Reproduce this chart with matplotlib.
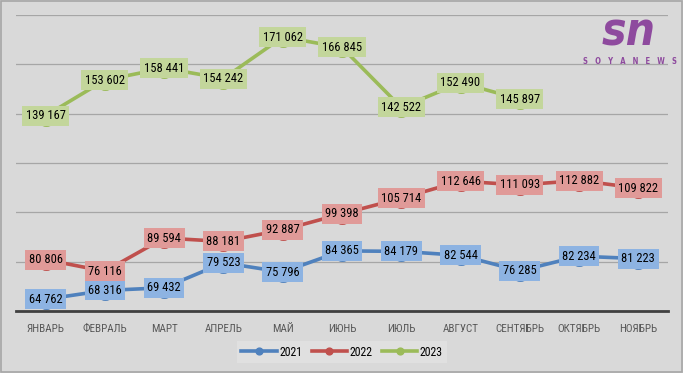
import matplotlib
matplotlib.use("Agg")
import matplotlib.pyplot as plt
from matplotlib import font_manager
from matplotlib.patches import Rectangle

months = ["ЯНВАРЬ", "ФЕВРАЛЬ", "МАРТ", "АПРЕЛЬ", "МАЙ", "ИЮНЬ", "ИЮЛЬ",
          "АВГУСТ", "СЕНТЯБРЬ", "ОКТЯБРЬ", "НОЯБРЬ"]
v2021 = [64762, 68316, 69432, 79523, 75796, 84365, 84179, 82544, 76285, 82234, 81223]
v2022 = [80806, 76116, 89594, 88181, 92887, 99398, 105714, 112646, 111093, 112882, 109822]
v2023 = [139167, 153602, 158441, 154242, 171062, 166845, 142522, 152490, 145897]
series_names = ["2021", "2022", "2023"]

names = {f.name for f in font_manager.fontManager.ttflist}
narrow = None
for cand in ["Liberation Sans Narrow", "Roboto Condensed", "Open Sans Condensed",
             "Noto Sans Condensed", "DejaVu Sans Condensed"]:
    if cand in names:
        narrow = cand
        break
if narrow is None:
    narrow = "DejaVu Sans"
plt.rcParams['font.family'] = [narrow, 'DejaVu Sans']
plt.rcParams['font.stretch'] = 'condensed'

line_colors = ["#4f81bd", "#c0504d", "#9bbb59"]
box_colors = ["#8db3e2", "#e09a98", "#c3d69b"]

W, H = 683, 373
fig = plt.figure(figsize=(W / 100, H / 100), dpi=100)
fig.patch.set_facecolor("#d9d9d9")
fig.patches.append(Rectangle((0.001, 0.002), 0.997, 0.995, transform=fig.transFigure,
                             fill=False, edgecolor="#a6a6a6", linewidth=1.2))

ax = fig.add_axes([16 / W, 1 - 311 / H, (668 - 16) / W, (311 - 15) / H])
ax.set_facecolor("#d9d9d9")
ax.set_ylim(60000, 180000)
ax.set_xlim(-0.5, len(months) - 0.5)
ax.set_yticks(range(60000, 180001, 20000))
ax.yaxis.grid(True, color="#a6a6a6", linewidth=0.9)
ax.set_axisbelow(True)
ax.tick_params(axis="y", left=False, labelleft=False)
ax.tick_params(axis="x", bottom=False, pad=6, labelsize=8, labelcolor="#595959")
for s in ["top", "right", "left"]:
    ax.spines[s].set_visible(False)
ax.spines["bottom"].set_color("#404040")
ax.spines["bottom"].set_linewidth(2)
ax.set_xticks(range(len(months)))
ax.set_xticklabels(months)

for vals, name, lc, bc in zip([v2021, v2022, v2023], series_names, line_colors, box_colors):
    xs = list(range(len(vals)))
    ax.plot(xs, vals, color=lc, linewidth=2.6, marker="o", markersize=14,
            markerfacecolor=lc, markeredgecolor=lc, label=name, zorder=3)
    for x, v in zip(xs, vals):
        txt = f"{v:,}".replace(",", " ")
        ax.text(x, v, txt, ha="center", va="center", fontsize=9, color="#000000",
                zorder=4,
                bbox=dict(boxstyle="square,pad=0.28", facecolor=bc, edgecolor="none"))

leg = ax.legend(loc="center", bbox_to_anchor=(342 / W, 1 - 352 / H),
                bbox_transform=fig.transFigure, ncol=3, frameon=True,
                fontsize=8.5, handlelength=3.0, handletextpad=0.2, columnspacing=0.8,
                markerscale=0.35, borderpad=0.4, fancybox=False)
leg.get_frame().set_facecolor("#e3e3e3")
leg.get_frame().set_edgecolor("none")
for line in leg.get_lines():
    line.set_linewidth(2.6)

# logo
fig.text(629 / W, 1 - 45 / H, "sn", ha="center", va="baseline", fontsize=33,
         color="#8e4a9e", style="italic", fontweight="bold", family="DejaVu Sans")
fig.text(630 / W, 1 - 62 / H, "S   O   Y   A   N   E   W   S", ha="center",
         va="center", fontsize=5.5, color="#8e4a9e", fontweight="bold",
         family="DejaVu Sans")

fig.savefig("out.png", dpi=100, facecolor=fig.get_facecolor())
